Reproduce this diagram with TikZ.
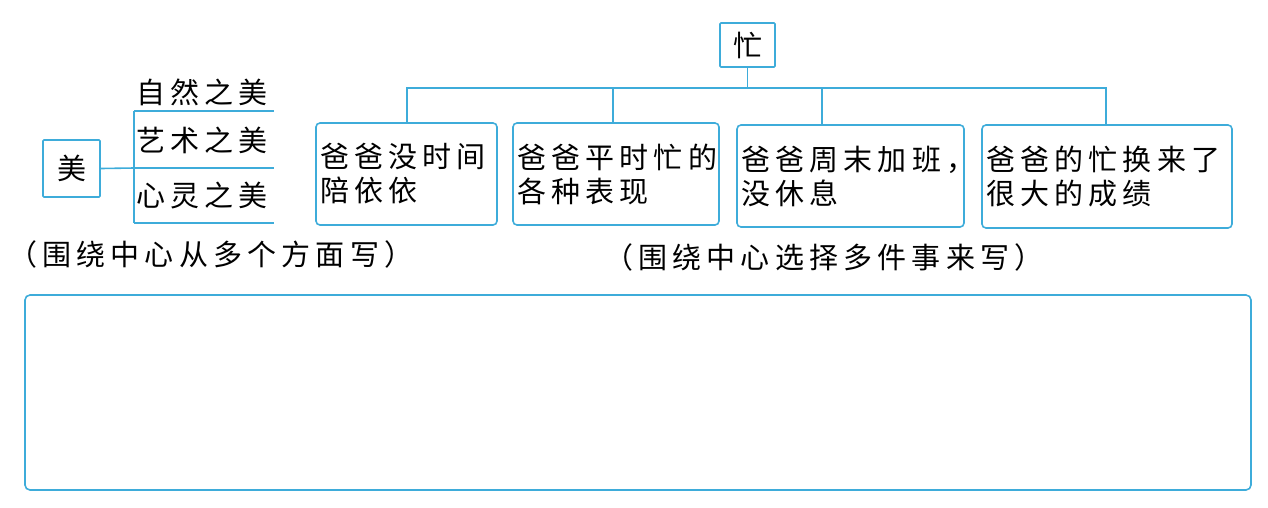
\documentclass[tikz,border=0pt]{standalone}
\usepackage{fontspec}
\newfontfamily\cjk[LetterSpace=18]{Noto Sans CJK SC}
\definecolor{lblue}{RGB}{62,172,218}
\begin{document}
\begin{tikzpicture}[x=1pt,y=-1pt,
  ln/.style={draw=lblue,line width=1.6pt},
  box/.style={draw=lblue,line width=1.6pt,rounded corners=4pt,inner xsep=4pt,inner ysep=0pt,align=left,font=\cjk\fontsize{29}{34}\selectfont},
  txt/.style={inner sep=0pt,anchor=west,font=\cjk\fontsize{29}{34}\selectfont}]
\useasboundingbox (0,0) rectangle (1268,507);
% left part
\node[box,rounded corners=1pt,minimum width=57pt,minimum height=57pt,inner xsep=0pt] (mei) at (71.5,168.5) {美};
\coordinate (jt) at (134,168);
\coordinate (vt) at (134,111);
\coordinate (vb) at (134,223);
\coordinate (r1) at (274,111);
\coordinate (r2) at (274,168);
\coordinate (r3) at (274,223);
\draw[ln] (mei.east) -- (jt);
\draw[ln] (vt) -- (vb);
\draw[ln] (vt) -- (r1);
\draw[ln] (jt) -- (r2);
\draw[ln] (vb) -- (r3);
\node[txt] (t1) at (136,92) {自然之美};
\node[txt] (t2) at (136,140) {艺术之美};
\node[txt] (t3) at (136,195) {心灵之美};
\node[txt] (cap1) at (8,254) {（\hspace{5pt}围绕中心从多个方面写\hspace{5pt}）};
% right part
\node[box,rounded corners=1pt,minimum width=55pt,minimum height=44pt,inner xsep=0pt] (mang) at (747.5,45) {忙};
\node[box,minimum width=181pt,minimum height=102pt,text width=173pt] (b1) at (406.5,174) {爸爸没时间\\陪依依};
\node[box,minimum width=206pt,minimum height=102pt,text width=198pt] (b2) at (616,174) {爸爸平时忙的\\各种表现};
\node[box,minimum width=227pt,minimum height=102pt,text width=219pt] (b3) at (850.5,176) {爸爸周末加班，\\没休息};
\node[box,minimum width=250pt,minimum height=103pt,text width=242pt] (b4) at (1107,176.5) {爸爸的忙换来了\\很大的成绩};
\coordinate (h) at (747.5,88);
\draw[ln] (mang.south) -- (h);
\draw[ln] (b1.north -| 407,0) |- (h);
\draw[ln] (b4.north -| 1106,0) |- (h);
\draw[ln] (b2.north -| 613,0) -- (613,88);
\draw[ln] (b3.north -| 822,0) -- (822,88);
\node[txt] (cap2) at (604,257) {（\hspace{5pt}围绕中心选择多件事来写\hspace{5pt}）};
% answer box
\node[draw=lblue,line width=1.6pt,rounded corners=5pt,minimum width=1226pt,minimum height=195pt] (ans) at (638,392.5) {};
\end{tikzpicture}
\end{document}
